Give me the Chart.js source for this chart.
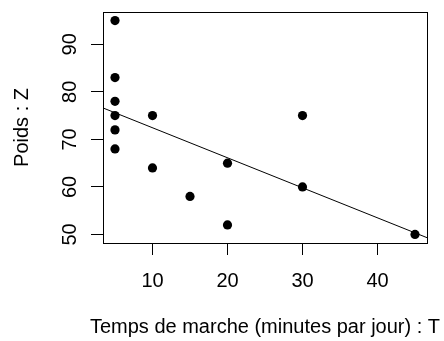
<!DOCTYPE html>
<html>
<head>
<meta charset="utf-8">
<script src="https://cdn.jsdelivr.net/npm/chart.js@4/dist/chart.umd.min.js"></script>
<style>
html,body{margin:0;padding:0;background:#fff;}
canvas{display:block;}
</style>
</head>
<body>
<canvas id="c" width="444" height="341"></canvas>
<script>
// Data
const walkMinutes = [5, 5, 5, 5, 5, 5, 10, 10, 15, 20, 20, 30, 30, 45];
const weightKg    = [95, 83, 78, 75, 72, 68, 75, 64, 58, 65, 52, 75, 60, 50];
const xTickValues = [10, 20, 30, 40];
const yTickValues = [50, 60, 70, 80, 90];
const xTitle = 'Temps de marche (minutes par jour) : T';
const yTitle = 'Poids : Z';

// R-style 4% axis extension
function extRange(arr) {
  const lo = Math.min(...arr), hi = Math.max(...arr), d = (hi - lo) * 0.04;
  return [lo - d, hi + d];
}
const [xMin, xMax] = extRange(walkMinutes);
const [yMin, yMax] = extRange(weightKg);

// Least squares regression line (abline(lm(Z ~ T)))
const n = walkMinutes.length;
const mx = walkMinutes.reduce((a, b) => a + b, 0) / n;
const my = weightKg.reduce((a, b) => a + b, 0) / n;
let sxy = 0, sxx = 0;
for (let i = 0; i < n; i++) {
  sxy += (walkMinutes[i] - mx) * (weightKg[i] - my);
  sxx += (walkMinutes[i] - mx) ** 2;
}
const slope = sxy / sxx;
const intercept = my - slope * mx;
const fitLine = [xMin, xMax].map(x => ({ x: x, y: intercept + slope * x }));

const points = walkMinutes.map((x, i) => ({ x: x, y: weightKg[i] }));

const FONT = '20px "Liberation Sans", Arial, Helvetica, sans-serif';

const rPlot = {
  id: 'rPlot',
  afterDraw(chart) {
    const ctx = chart.ctx, a = chart.chartArea;
    const xs = chart.scales.x, ys = chart.scales.y;
    ctx.save();
    // box
    ctx.strokeStyle = '#000';
    ctx.lineWidth = 1;
    ctx.strokeRect(Math.round(a.left) + 0.5, Math.round(a.top) + 0.5,
                   Math.round(a.right - a.left), Math.round(a.bottom - a.top));
    ctx.fillStyle = '#000';
    ctx.font = FONT;
    // x tick labels
    ctx.textAlign = 'center';
    ctx.textBaseline = 'alphabetic';
    xTickValues.forEach(v => ctx.fillText(String(v), xs.getPixelForValue(v), 287));
    // x title
    ctx.fillText(xTitle, (a.left + a.right) / 2, 333);
    // y tick labels (rotated)
    yTickValues.forEach(v => {
      ctx.save();
      ctx.translate(76, ys.getPixelForValue(v));
      ctx.rotate(-Math.PI / 2);
      ctx.textAlign = 'center';
      ctx.fillText(String(v), 0, 0);
      ctx.restore();
    });
    // y title
    ctx.save();
    ctx.translate(28, (a.top + a.bottom) / 2);
    ctx.rotate(-Math.PI / 2);
    ctx.textAlign = 'center';
    ctx.fillText(yTitle, 0, 0);
    ctx.restore();
    ctx.restore();
  }
};

new Chart(document.getElementById('c'), {
  type: 'scatter',
  data: {
    datasets: [
      {
        label: 'Z',
        data: points,
        pointRadius: 4.6,
        pointHoverRadius: 4.6,
        pointBackgroundColor: '#000',
        pointBorderWidth: 0,
        borderColor: '#000'
      },
      {
        type: 'line',
        label: 'fit',
        data: fitLine,
        borderColor: '#000',
        borderWidth: 1,
        pointRadius: 0,
        fill: false
      }
    ]
  },
  options: {
    responsive: false,
    devicePixelRatio: 1,
    animation: false,
    events: [],
    layout: { padding: { top: 12, right: 17, left: 0, bottom: 0 } },
    plugins: { legend: { display: false }, tooltip: { enabled: false } },
    scales: {
      x: {
        type: 'linear',
        min: xMin, max: xMax,
        afterBuildTicks: s => { s.ticks = xTickValues.map(v => ({ value: v })); },
        afterFit: s => { s.height = 98; },
        ticks: { display: false },
        grid: { display: true, drawOnChartArea: false, drawTicks: true, tickLength: 12, color: '#000', lineWidth: 1 },
        border: { display: false }
      },
      y: {
        type: 'linear',
        min: yMin, max: yMax,
        afterBuildTicks: s => { s.ticks = yTickValues.map(v => ({ value: v })); },
        afterFit: s => { s.width = 103; },
        ticks: { display: false },
        grid: { display: true, drawOnChartArea: false, drawTicks: true, tickLength: 12, color: '#000', lineWidth: 1 },
        border: { display: false }
      }
    }
  },
  plugins: [rPlot]
});
</script>
</body>
</html>
